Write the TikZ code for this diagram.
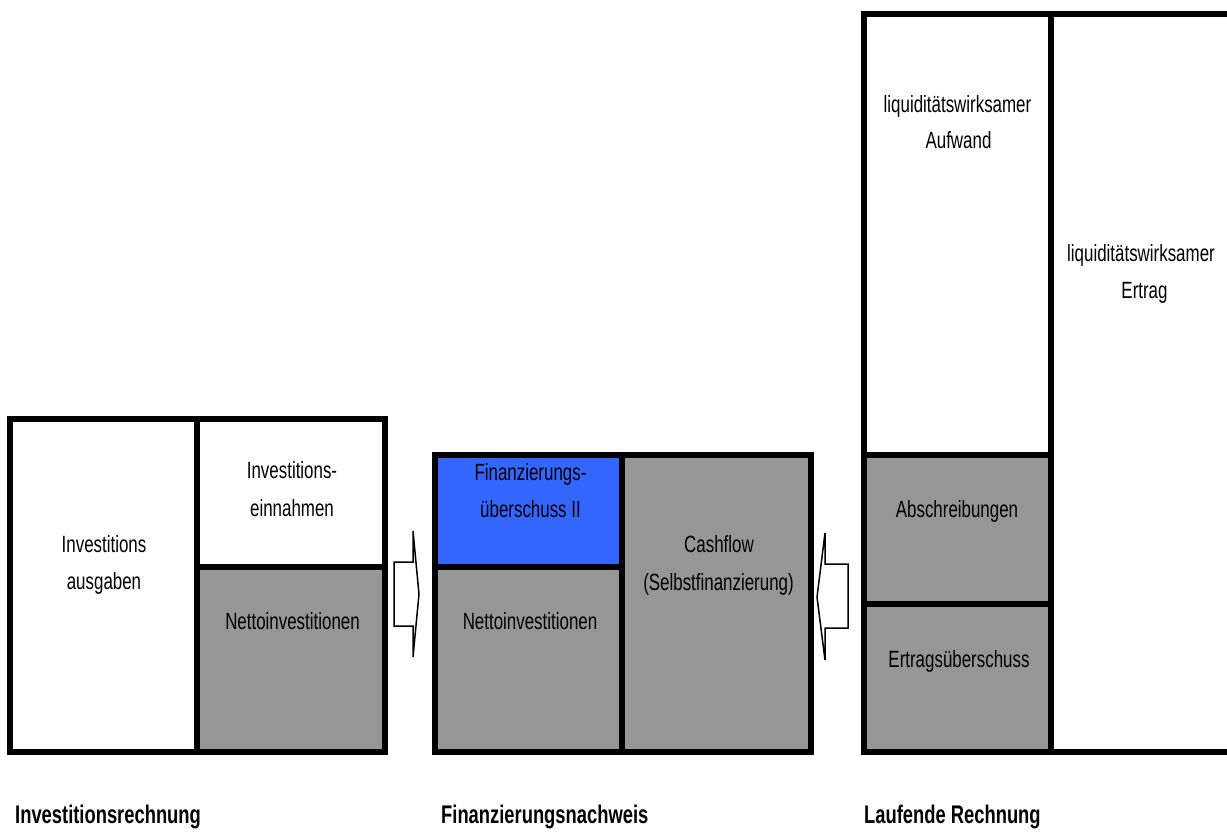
\documentclass[tikz,border=0pt]{standalone}
\usepackage{fontspec}
\setmainfont[FakeStretch=0.72]{Liberation Sans}
\begin{document}
\begin{tikzpicture}[x=1pt,y=-1pt,
  cell/.style={draw=black,line width=6pt,inner sep=0pt,outer sep=0pt},
  greycell/.style={cell,fill=cellgrey},
  whitecell/.style={cell,fill=white},
  bluecell/.style={cell,fill=cellblue},
  lbl/.style={anchor=base,inner sep=0pt,font=\fontsize{23.5}{28}\selectfont},
  ttl/.style={anchor=base west,inner sep=0pt,font=\fontsize{25.5}{30}\selectfont\bfseries},
  flowarrow/.style={draw=black,line width=1.5pt,fill=white,line join=miter}]
\definecolor{cellgrey}{HTML}{969696}
\definecolor{cellblue}{HTML}{3366FF}
\useasboundingbox (0,0) rectangle (1227,836);
\fill[white] (0,0) rectangle (1227,836);

% left group: Investitionsrechnung
\node[whitecell,minimum width=187pt,minimum height=333pt] (L1) at (103.5,585.5) {};
\node[whitecell,minimum width=188pt,minimum height=148pt] (L2) at (291,493) {};
\node[greycell,minimum width=188pt,minimum height=185pt] (L3) at (291,659.5) {};

% middle group: Finanzierungsnachweis
\node[bluecell,minimum width=187pt,minimum height=112pt] (M1) at (528.5,511) {};
\node[greycell,minimum width=187pt,minimum height=185pt] (M2) at (528.5,659.5) {};
\node[greycell,minimum width=189pt,minimum height=297pt] (M3) at (716.5,603.5) {};

% right group: Laufende Rechnung
\node[fill=white,inner sep=0pt,minimum width=176pt,minimum height=738pt] (R4) at (1139,383) {};
\coordinate (RT) at (1227,14);
\coordinate (RB) at (1227,752);
\draw[line width=6pt] (RT) -- (1048,14);
\draw[line width=6pt] (RB) -- (1048,752);
\node[whitecell,minimum width=187pt,minimum height=441pt] (R1) at (957.5,234.5) {};
\node[greycell,minimum width=187pt,minimum height=149pt] (R2) at (957.5,529.5) {};
\node[greycell,minimum width=187pt,minimum height=148pt] (R3) at (957.5,678) {};

% arrows
\draw[flowarrow] (394,562) -- (413,562) -- (413,531) -- (419,594) -- (413,657) -- (413,626) -- (394,626) -- cycle;
\draw[flowarrow] (848,564) -- (825,564) -- (825,533) -- (817,597) -- (825,660) -- (825,628) -- (848,628) -- cycle;

% labels
\node[lbl] (tL1a) at (104,552) {Investitions};
\node[lbl] (tL1b) at (104,589) {ausgaben};
\node[lbl] (tL2a) at (292,478) {Investitions-};
\node[lbl] (tL2b) at (292,516) {einnahmen};
\node[lbl] (tL3) at (292.5,629) {Nettoinvestitionen};
\node[lbl] (tM1a) at (530.5,480) {Finanzierungs-};
\node[lbl] (tM1b) at (530.5,517) {überschuss II};
\node[lbl] (tM2) at (530,629) {Nettoinvestitionen};
\node[lbl] (tM3a) at (719,552) {Cashflow};
\node[lbl] (tM3b) at (718.5,590) {(Selbstfinanzierung)};
\node[lbl] (tR1a) at (957.5,112) {liquiditätswirksamer};
\node[lbl] (tR1b) at (958.5,148) {Aufwand};
\node[lbl] (tR2) at (957,517) {Abschreibungen};
\node[lbl] (tR3) at (959,667) {Ertragsüberschuss};
\node[lbl] (tR4a) at (1141,261) {liquiditätswirksamer};
\node[lbl] (tR4b) at (1144.5,298) {Ertrag};

% titles
\node[ttl] (T1) at (15,823) {Investitionsrechnung};
\node[ttl] (T2) at (441,823) {Finanzierungsnachweis};
\node[ttl] (T3) at (864,823) {Laufende Rechnung};
\end{tikzpicture}
\end{document}
